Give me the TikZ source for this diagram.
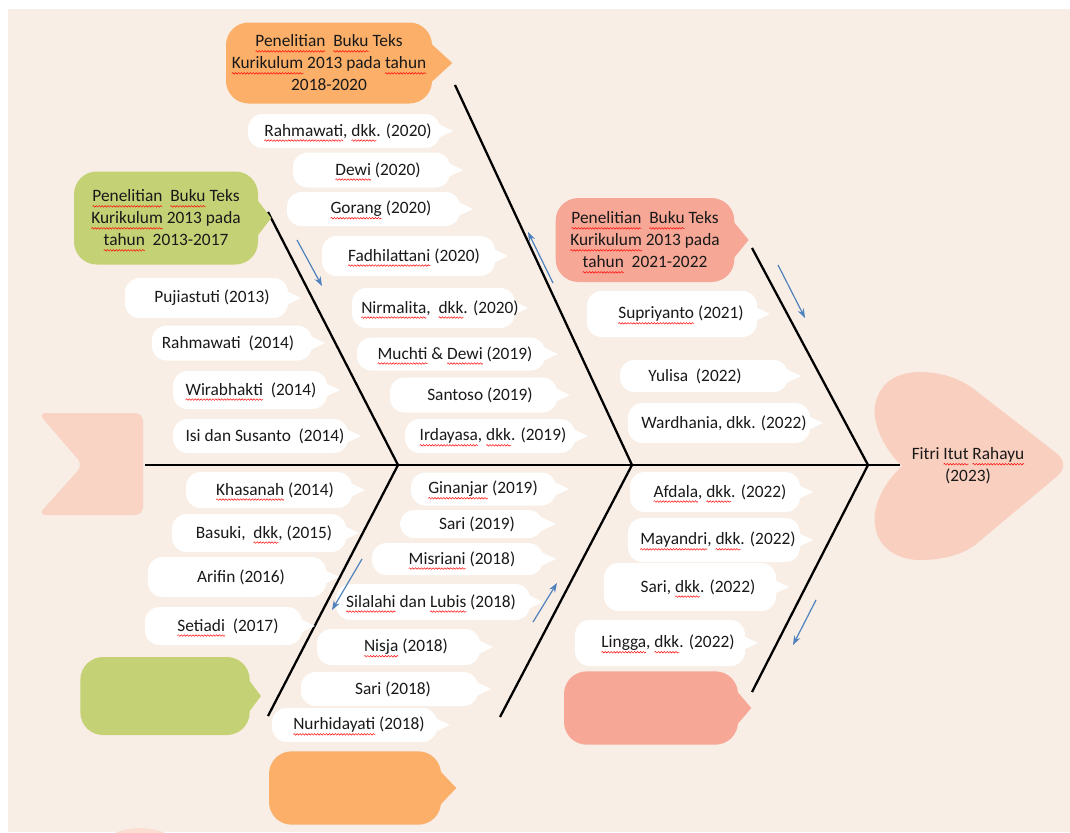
\documentclass[tikz,border=0pt]{standalone}
\usepackage{fontspec}
\setmainfont{Carlito}
\usetikzlibrary{arrows.meta,calc,decorations.pathmorphing}
\definecolor{bgCream}{RGB}{248,238,229}
\definecolor{boxOrange}{RGB}{251,175,105}
\definecolor{boxGreen}{RGB}{197,209,117}
\definecolor{boxSalmon}{RGB}{247,167,150}
\definecolor{boxPeach}{RGB}{249,211,195}
\definecolor{heartPink}{RGB}{249,207,191}
\definecolor{flowBlue}{RGB}{79,129,189}
\newsavebox\sqbox
\newcommand\sq[1]{\sbox\sqbox{#1}\rlap{\usebox\sqbox}\tikz[baseline=0pt,x=1pt,y=1pt]{%
  \path[use as bounding box] (0pt,0pt) rectangle (\the\wd\sqbox,0pt);
  \draw[overlay, sharp corners, fill=none, red, line width=0.35pt, decorate,
    decoration={snake,amplitude=0.6pt,segment length=2.2pt}]
    (0pt,-3.3pt) -- (\the\wd\sqbox,-3.3pt);}}

\begin{document}
\begin{tikzpicture}[x=0.75pt, y=-0.75pt, font=\fontsize{13}{16.5}\selectfont,
    spine/.style={line width=2.2pt},
    bone/.style={line width=1.7pt},
    flow/.style={flowBlue, line width=0.9pt, -{Stealth[length=7pt,width=5pt]}},
    catbox/.style={rounded corners=17pt, align=center, text=black!90, inner sep=0pt},
    reftext/.style={inner sep=0pt, text=black!90}]
        \useasboundingbox (0,0) rectangle (1070,832);
        \fill[white] (0,0) rectangle (1070,832);
        \fill[bgCream] (8,9) rectangle (1070,832);
        % tail and head of the fish
        \fill[boxPeach, rounded corners=6pt] (38,413) -- (143,413) -- (143,515) -- (38,515) -- (83,465) -- cycle;
        \fill[heartPink!70] (140,858) ellipse [x radius=45, y radius=30];
        \fill[heartPink] (902,466) .. controls (885,450) and (872,425) .. (875,405)
            .. controls (880,380) and (900,372) .. (920,372) .. controls (940,372) and (960,378) .. (975,390)
            -- (1055,452) .. controls (1066,460) and (1066,470) .. (1055,478) -- (975,545)
            .. controls (960,556) and (940,560) .. (920,560) .. controls (900,560) and (878,550) .. (875,525)
            .. controls (872,505) and (885,482) .. (902,466) -- cycle;
        \node[catbox] (result) at (968,466) {Fitri \sq{Itut} \sq{Rahayu}\\(2023)};

        % spine and bones
        \coordinate (jA) at (398,465);
        \coordinate (jB) at (632,465);
        \coordinate (jC) at (868,465);
        \draw[spine] (145,465) -- (900,465);
        \draw[bone] (268,212) -- (jA);
        \draw[bone] (jA) -- (268,716);
        \draw[bone] (455,85) -- (jB);
        \draw[bone] (jB) -- (500,717);
        \draw[bone] (752,248) -- (jC);
        \draw[bone] (jC) -- (752,692);

        % category boxes
        \node[catbox, fill=boxOrange, minimum width=154.5pt, minimum height=60.75pt] (catB) at (329,63)
            {\sq{Penelitian}\ \ \sq{Buku} Teks\\\sq{Kurikulum} 2013 pada \sq{tahun}\\2018-2020};
        \fill[boxOrange] ($(catB.east)+(-4,-22)$) -- ($(catB.east)+(20,0)$) -- ($(catB.east)+(-4,22)$) -- cycle;
        \node[catbox, fill=boxGreen, minimum width=138pt, minimum height=69.75pt] (catA) at (166,218)
            {\sq{Penelitian}\ \ \sq{Buku} Teks\\\sq{Kurikulum} 2013 pada\\\sq{tahun}\ \ 2013-2017};
        \fill[boxGreen] ($(catA.east)+(-4,-22)$) -- ($(catA.east)+(13,0)$) -- ($(catA.east)+(-4,22)$) -- cycle;
        \node[catbox, fill=boxSalmon, minimum width=134pt, minimum height=63pt] (catC) at (645,240)
            {\sq{Penelitian}\ \ \sq{Buku} Teks\\\sq{Kurikulum} 2013 pada\\\sq{tahun}\ \ 2021-2022};
        \fill[boxSalmon] ($(catC.east)+(-4,-22)$) -- ($(catC.east)+(14,0)$) -- ($(catC.east)+(-4,22)$) -- cycle;
        \node[catbox, fill=boxGreen, minimum width=127pt, minimum height=58.5pt] (catD) at (165,696) {};
        \fill[boxGreen] ($(catD.east)+(-4,-20)$) -- ($(catD.east)+(11,0)$) -- ($(catD.east)+(-4,20)$) -- cycle;
        \node[catbox, fill=boxOrange, minimum width=129pt, minimum height=55pt] (catE) at (355,788) {};
        \fill[boxOrange] ($(catE.east)+(-4,-20)$) -- ($(catE.east)+(15,0)$) -- ($(catE.east)+(-4,20)$) -- cycle;
        \node[catbox, fill=boxSalmon, minimum width=130.5pt, minimum height=55pt] (catF) at (651,708) {};
        \fill[boxSalmon] ($(catF.east)+(-4,-20)$) -- ($(catF.east)+(13,0)$) -- ($(catF.east)+(-4,20)$) -- cycle;

        % reference bubbles
        \foreach \xl/\xr/\yc/\hh/\xt/\lbl [count=\i] in {
            248/440/131/34/348/{\sq{Rahmawati}, \sq{dkk}. (2020)},
            293/450/170/35/378/{\sq{Dewi} (2020)},
            287/460/209/34/381/{\sq{Gorang} (2020)},
            322/495/256/40/414/{\sq{Fadhilattani} (2020)},
            352/515/308/40/440/{\sq{Nirmalita},\ \ \sq{dkk}. (2020)},
            357/545/354/33/455/{\sq{Muchti} \& \sq{Dewi} (2019)},
            390/557/395/35/480/{Santoso (2019)},
            405/575/436/34/493/{\sq{Irdayasa}, \sq{dkk}. (2019)},
            125/288/298/40/212/{Pujiastuti (2013)},
            152/312/343/35/228/{Rahmawati\ \ (2014)},
            173/327/390/38/251/{\sq{Wirabhakti}\ \ (2014)},
            173/348/436/34/265/{Isi dan Susanto\ \ (2014)},
            186/352/490/36/275/{\sq{Khasanah} (2014)},
            172/346/533/38/264/{Basuki,\ \ \sq{dkk}, (2015)},
            148/326/577/40/241/{Arifin (2016)},
            145/302/626/38/228/{\sq{Setiadi}\ \ (2017)},
            411/556/489/33/483/{\sq{Ginanjar} (2019)},
            400/543/524/28/477/{Sari (2019)},
            372/543/559/32/462/{\sq{Misriani} (2018)},
            336/530/602/36/431/{\sq{Silalahi} dan \sq{Lubis} (2018)},
            317/480/647/36/406/{\sq{Nisja} (2018)},
            301/478/689/34/393/{Sari (2018)},
            272/437/725/34/359/{\sq{Nurhidayati} (2018)},
            587/757/314/46/681/{\sq{Supriyanto} (2021)},
            620/788/376/32/695/{Yulisa\ \ (2022)},
            628/810/423/40/724/{Wardhania, dkk. (2022)},
            630/800/492/40/720/{\sq{Afdala}, \sq{dkk}. (2022)},
            628/800/540/44/718/{\sq{Mayandri}, \sq{dkk}. (2022)},
            604/776/587/48/698/{Sari, \sq{dkk}. (2022)},
            575/745/643/46/668/{\sq{Lingga}, \sq{dkk}. (2022)}} {
          \fill[white, rounded corners=11pt] (\xl,{\yc-\hh/2}) rectangle (\xr,{\yc+\hh/2});
          \fill[white] ({\xr-6},{\yc-9}) -- ({\xr+13},\yc) -- ({\xr-6},{\yc+9}) -- cycle;
          \node[reftext] (ref\i) at (\xt,\yc) {\lbl};
        }

        % direction arrows
        \draw[flow] (297,240) -- (322,286);
        \draw[flow] (553,283) -- (528,232);
        \draw[flow] (778,265) -- (805,318);
        \draw[flow] (362,559) -- (332,610);
        \draw[flow] (533,622) -- (557,583);
        \draw[flow] (816,600) -- (793,645);
      \end{tikzpicture}
\end{document}
